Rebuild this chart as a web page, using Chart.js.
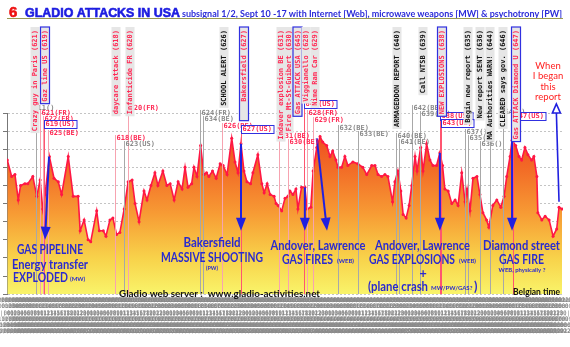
<!DOCTYPE html>
<html>
<head>
<meta charset="utf-8">
<script src="https://cdn.jsdelivr.net/npm/chart.js@4.4.0/dist/chart.umd.min.js"></script>
<style>
html,body{margin:0;padding:0;background:#fff}
</style>
</head>
<body>
<canvas id="myChart" width="570" height="347"></canvas>
<script>
// hours since Sept 10, 00:00 (Belgian time)
const hours = [0.1, 1.4, 2.4, 3.4, 4.1, 5.4, 6.3, 7.8, 9.0, 10.0,
  10.8, 11.5, 12.8, 14.2, 15.5, 16.5, 18.5, 20.0, 21.5, 22.1,
  23.3, 24.5, 25.3, 27.1, 27.9, 29.1, 29.9, 31.1, 32.0, 33.1,
  34.1, 35.4, 36.6, 37.8, 38.7, 39.9, 41.4, 42.3, 43.5, 44.7,
  45.6, 47.1, 48.3, 49.3, 50.5, 51.7, 52.9, 53.8, 54.7, 55.8,
  56.5, 57.4, 58.5, 59.5, 60.3, 61.0, 62.1, 63.2, 64.4, 65.3,
  66.5, 67.9, 68.9, 69.8, 70.7, 71.6, 72.5, 73.6, 74.3, 75.8,
  77.0, 77.7, 78.6, 79.5, 80.7, 81.3, 81.9, 83.0, 84.0, 84.9,
  85.5, 86.4, 87.3, 87.9, 89.0, 90.0, 90.7, 91.8, 92.5, 93.6,
  94.6, 95.4, 96.6, 97.6, 98.4, 99.4, 100.0, 101.1, 102.1, 103.0,
  104.5, 106.0, 107.5, 108.7, 110.2, 111.2, 112.1, 113.2, 114.2, 115.1,
  116.5, 117.2, 118.1, 119.0, 119.7, 120.6, 121.5, 122.3, 123.3, 123.9,
  125.0, 125.7, 126.8, 127.8, 128.7, 129.8, 130.8, 131.6, 132.3, 133.3,
  134.4, 135.4, 136.3, 137.4, 138.4, 139.0, 139.9, 140.8, 142.0, 142.9,
  143.8, 144.9, 145.6, 146.8, 148.0, 149.2, 150.2, 151.0, 152.0, 152.6,
  153.7, 154.7, 155.5, 156.5, 157.4, 158.5, 159.2, 160.1, 160.4, 161.6,
  162.6, 163.8, 165.0, 166.1, 166.8, 167.7];

const signal = [74, 65, 66, 52, 60, 61, 61, 65, 54, 63,
  47, 55, 76, 64, 62, 55, 76, 54, 54, 35,
  41, 30, 29, 46, 35, 35, 32, 41, 42, 33,
  34, 47, 62, 63, 50, 40, 57, 52, 60, 67,
  60, 68, 60, 61, 52, 62, 58, 70, 59, 61,
  70, 65, 82, 66, 67, 65, 68, 64, 72, 71,
  66, 86, 73, 67, 83, 68, 62, 61, 67, 77,
  61, 56, 61, 55, 54, 50, 49, 46, 53, 54,
  57, 55, 58, 47, 59, 59, 47, 48, 68, 81,
  87, 84, 82, 76, 79, 74, 70, 70, 76, 71,
  73, 72, 70, 66, 71, 71, 66, 65, 66, 65,
  51, 62, 68, 57, 44, 42, 49, 60, 76, 68,
  81, 68, 83, 74, 71, 71, 78, 71, 58, 57,
  50, 52, 49, 67, 51, 58, 46, 64, 65, 55,
  45, 41, 37, 49, 52, 48, 54, 65, 76, 85,
  82, 76, 74, 81, 77, 74, 76, 65, 45, 41,
  43, 41, 32, 36, 48, 47];

const tickDays = ['10/09', '11/09', '12/09', '13/09', '14/09', '15/09', '16/09', '17/09'];

// events: vertical markers
const eventHours = [8.9, 10.0, 10.8, 11.1, 12.5, 32.6, 35.4, 36.6, 58.3, 59.2,
  64.9, 70.7, 82.2, 84.9, 89.7, 90.6, 92.5, 100.0, 106.1, 117.5,
  118.4, 122.4, 124.8, 130.8, 131.1, 138.4, 139.3, 142.9, 145.9, 149.9, 152.9];
const eventTags = ['11()', '621(FR)', '622(FR)', '619(US)', '625(BE)', '618(BE)', '623(US)', '620(FR)', '624(FR)', '634(BE)',
  '626(BE)', '627(US)', '631(BE)', '630(BE)', '645(US)', '628(FR)', '629(FR)', '632(BE)', '633(BE)', '640(BE)',
  '641(BE)', '642(BE)', '639(BE)', '638(US)', '643(US)', '637()', '635()', '636()', '', '646()', '647(US)'];
const eventKinds = ['info', 'alert', 'alert', 'attack', 'alert', 'alert', 'info', 'alert', 'info', 'info',
  'alert', 'attack', 'alert', 'alert', 'attack', 'alert', 'alert', 'info', 'info', 'info',
  'info', 'info', 'info', 'attack', 'attack', 'info', 'info', 'info', 'info', 'info', 'attack'];

// rotated event names
const titleTexts = ['Crazy guy in Paris (621)', 'Gaz line US (619)', 'daycare attack (618)', 'Infanticide FR (620)',
  'SCHOOL ALERT (626)', 'Bakersfield (627)', 'Indaver explosion BE (631)', 'Fire Mt-St-Guibert (630)',
  'Gas ATTACK USA (645)', 'Viggianello (628)', 'Nime Ram Car (629)', 'ARMAGEDDON REPORT (640)', 'Call NTSB (639)',
  'NEW EXPLOSIONS (638)', 'Begin new report (635)', 'New report SENT (636)', 'MA Authorities WARN! (644)',
  'CLEARED says gov. (646)', 'Gas ATTACK Diamond U (647)'];
const titleKinds = ['red', 'boxed', 'red', 'red', 'black', 'boxed', 'red', 'red', 'boxed', 'red', 'red',
  'black', 'black', 'boxed', 'black', 'black', 'black', 'black', 'boxed'];

// arrows from an event to its comment [hour, level]
const arrowFrom = [[12.7, 76], [70.7, 83], [90.0, 59], [93.6, 86], [130.8, 78], [152.6, 85]];
const arrowTo = [[11.5, 30], [70.7, 35], [90.0, 35], [96.7, 35], [130.8, 35], [152.6, 35]];
const reportArrow = [[166.8, 51], [166.0, 105]];

// layout of the text layer (px)
const tagTop = [105, 110, 116, 121, 130, 135, 141, 105, 110, 116, 123, 126, 133, 139, 101, 110, 117, 125, 131, 133,
  139, 105, 111, 113, 120, 129, 135, 141, 140, 109, 113];
const titleX = [35, 45, 116, 130, 224, 244, 281, 289, 297.5, 306, 315, 397, 423, 442, 468, 480, 490, 503, 516];
const titleExtra = [0, 0, 0, 0, 0, 17, 0, 0, 0, 0, 0, 0, 0, 0, 0, 0, 0, 0, 0];

const blueTxt = '#2a2ad0';
const notes = [
  ['GAS PIPELINE', 50, 250, 12.5, 66, 'center'],
  ['Energy transfer', 50, 264.5, 12.5, 76, 'center'],
  ['EXPLODED', 13, 278, 12.5, 55, 'left'],
  ['(MW)', 70, 279.5, 6, 16, 'left'],
  ['Bakersfield', 212, 243, 12.5, 57, 'center'],
  ['MASSIVE SHOOTING', 212, 257.5, 12.5, 102, 'center'],
  ['(PW)', 212, 268, 6, 12, 'center'],
  ['Andover, Lawrence', 318, 246, 12.5, 95, 'center'],
  ['GAS FIRES', 282, 260, 12.5, 51, 'left'],
  ['(WEB)', 337, 261.5, 6, 17, 'left'],
  ['Andover, Lawrence', 422.5, 246, 12.5, 95, 'center'],
  ['GAS EXPLOSIONS', 369, 260, 12.5, 86, 'left'],
  ['(WEB)', 459, 261.5, 6, 18, 'left'],
  ['+', 423, 274, 12.5, 10, 'center'],
  ['(plane crash', 368, 287, 12.5, 60, 'left'],
  ['MW/PW/GAS?', 431, 288.5, 6, 42, 'left'],
  [')', 474, 287, 12.5, 4, 'left'],
  ['Diamond street', 521.5, 246, 12.5, 77, 'center'],
  ['GAS FIRE', 521.5, 260, 12.5, 45, 'center'],
  ['WEB, physically ?', 522, 270, 6, 50, 'center']
];

const kindStyle = {
  alert: {line: '#f7a3b0', text: '#ff2a55', box: false},
  attack: {line: '#ff5570', text: '#ff2a55', box: true},
  info: {line: '#a8a8a8', text: '#8a8a8a', box: false}
};

const overlay = {
  id: 'overlay',
  afterDatasetsDraw(chart) {
    const {ctx, chartArea, scales: {x, y}} = chart;
    ctx.save();
    // event lines
    eventHours.forEach(function(h, i) {
      const px = Math.round(x.getPixelForValue(h)) + 0.5;
      ctx.strokeStyle = kindStyle[eventKinds[i]].line;
      ctx.lineWidth = 1;
      ctx.beginPath();
      ctx.moveTo(px, tagTop[i]);
      ctx.lineTo(px, chartArea.bottom);
      ctx.stroke();
    });
    // blue arrows
    ctx.strokeStyle = '#2020e0';
    ctx.fillStyle = '#2020e0';
    arrowFrom.forEach(function(a, i) {
      const x0 = x.getPixelForValue(a[0]), y0 = y.getPixelForValue(a[1]);
      const x1 = x.getPixelForValue(arrowTo[i][0]), y1 = y.getPixelForValue(arrowTo[i][1]);
      const ang = Math.atan2(y1 - y0, x1 - x0);
      ctx.lineWidth = 2;
      ctx.beginPath();
      ctx.moveTo(x0, y0);
      ctx.lineTo(x1 - 10 * Math.cos(ang), y1 - 10 * Math.sin(ang));
      ctx.stroke();
      ctx.beginPath();
      ctx.moveTo(x1, y1);
      ctx.lineTo(x1 - 13 * Math.cos(ang) + 5 * Math.sin(ang), y1 - 13 * Math.sin(ang) - 5 * Math.cos(ang));
      ctx.lineTo(x1 - 13 * Math.cos(ang) - 5 * Math.sin(ang), y1 - 13 * Math.sin(ang) + 5 * Math.cos(ang));
      ctx.closePath();
      ctx.fill();
    });
    // hollow arrow up to "When I began this report"
    const rx0 = x.getPixelForValue(reportArrow[0][0]), ry0 = y.getPixelForValue(reportArrow[0][1]);
    const rx1 = x.getPixelForValue(reportArrow[1][0]), ry1 = y.getPixelForValue(reportArrow[1][1]);
    ctx.lineWidth = 1.6;
    ctx.beginPath();
    ctx.moveTo(rx0, ry0);
    ctx.lineTo(rx1, ry1 + 9);
    ctx.stroke();
    ctx.fillStyle = '#fff';
    ctx.beginPath();
    ctx.moveTo(rx1, ry1);
    ctx.lineTo(rx1 - 4, ry1 + 9);
    ctx.lineTo(rx1 + 4, ry1 + 9);
    ctx.closePath();
    ctx.fill();
    ctx.stroke();

    // small tags
    ctx.font = 'bold 7px "DejaVu Sans Mono"';
    ctx.textBaseline = 'top';
    ctx.textAlign = 'left';
    eventHours.forEach(function(h, i) {
      if (!eventTags[i]) return;
      const st = kindStyle[eventKinds[i]];
      const px = Math.round(x.getPixelForValue(h));
      const w = ctx.measureText(eventTags[i]).width;
      if (st.box) {
        ctx.fillStyle = '#fff';
        ctx.fillRect(px, tagTop[i] - 1, w + 3, 8);
        ctx.strokeStyle = '#3030e0';
        ctx.lineWidth = 1;
        ctx.strokeRect(px + 0.5, tagTop[i] - 0.5, w + 3, 8);
      }
      ctx.fillStyle = st.text;
      ctx.fillText(eventTags[i], px + 1.5, tagTop[i]);
    });

    // rotated names
    titleTexts.forEach(function(t, i) {
      const w = ctx.measureText(t).width;
      const cx = titleX[i];
      const top = 27, hgt = w + 5 + titleExtra[i];
      ctx.fillStyle = '#e6e6e6';
      ctx.fillRect(cx - 4.5, top, 9, hgt);
      if (titleKinds[i] === 'boxed') {
        ctx.strokeStyle = '#3030e0';
        ctx.lineWidth = 1.2;
        ctx.strokeRect(cx - 4.5, top, 9, hgt);
      }
      ctx.save();
      ctx.translate(cx, top + w + 3);
      ctx.rotate(-Math.PI / 2);
      ctx.textBaseline = 'middle';
      ctx.fillStyle = titleKinds[i] === 'black' ? '#111' : '#ff2a55';
      ctx.fillText(t, 0, 0.5);
      ctx.restore();
    });

    // comments
    ctx.textBaseline = 'middle';
    ctx.fillStyle = blueTxt;
    notes.forEach(function(n) {
      ctx.font = 'bold ' + n[3] + 'px Lato';
      ctx.textAlign = n[5];
      ctx.fillText(n[0], n[1], n[2], n[4]);
    });
    ctx.fillStyle = '#111';
    ctx.textAlign = 'left';
    ctx.font = 'bold 10px Lato';
    ctx.fillText('Gladio web server :  www.gladio-activities.net', 119, 294, 201);
    ctx.font = 'bold 8.5px Lato';
    ctx.fillText('Belgian time', 513, 292.5, 47);

    ctx.fillStyle = '#ff2020';
    ctx.textAlign = 'center';
    ctx.font = '9.5px Lato';
    ['When', 'I began', 'this', 'report'].forEach(function(s, i) {
      ctx.fillText(s, 548, 66 + i * 10.3);
    });

    // heading
    ctx.textAlign = 'left';
    ctx.textBaseline = 'alphabetic';
    ctx.fillStyle = '#ee1111';
    ctx.strokeStyle = '#ee1111';
    ctx.lineWidth = 0.6;
    ctx.font = 'bold 15px "Liberation Sans"';
    ctx.fillText('6', 9, 17);
    ctx.strokeText('6', 9, 17);
    ctx.fillStyle = '#1c1ce0';
    ctx.strokeStyle = '#1c1ce0';
    ctx.font = 'bold 13px "Liberation Sans"';
    ctx.fillText('GLADIO ATTACKS IN USA', 25, 17, 155);
    ctx.strokeText('GLADIO ATTACKS IN USA', 25, 17, 155);
    ctx.fillStyle = '#2a2ad8';
    ctx.font = 'bold 9px Lato';
    ctx.fillText('subsignal 1/2, Sept 10 -17 with Internet [Web], microwave weapons [MW] & psychotrony [PW]', 182, 17, 380);
    ctx.strokeStyle = '#9a9a50';
    ctx.lineWidth = 1;
    ctx.beginPath();
    ctx.moveTo(7, 18.5);
    ctx.lineTo(563, 18.5);
    ctx.stroke();
    ctx.restore();
  }
};

const points = hours.map(function(h, i) { return {x: h, y: signal[i]}; });

const ctx = document.getElementById('myChart').getContext('2d');
const chart = new Chart(ctx, {
  type: 'line',
  data: {
    datasets: [{
      data: points,
      borderColor: '#ff1744',
      borderWidth: 1.6,
      pointRadius: 1.5,
      pointBackgroundColor: '#ff1744',
      pointBorderWidth: 0,
      tension: 0,
      fill: 'origin',
      backgroundColor: function(c) {
        const area = c.chart.chartArea;
        if (!area) return '#f58a30';
        const g = c.chart.ctx.createLinearGradient(0, area.top, 0, area.bottom);
        g.addColorStop(0, '#ec3a1c');
        g.addColorStop(0.3, '#f26a26');
        g.addColorStop(0.55, '#f79a34');
        g.addColorStop(0.8, '#f8d24a');
        g.addColorStop(1, '#f9f46a');
        return g;
      }
    }]
  },
  options: {
    responsive: false,
    animation: false,
    layout: {padding: {top: 113, left: 3, right: 7, bottom: 9}},
    plugins: {legend: {display: false}, tooltip: {enabled: false}},
    scales: {
      x: {
        type: 'linear', min: 0, max: 168,
        grid: {display: false, drawTicks: false},
        border: {display: false},
        afterFit: function(s) { s.paddingLeft = 0; s.paddingRight = 0; },
        ticks: {
          stepSize: 1, autoSkip: false, maxRotation: 0, minRotation: 0, padding: 3,
          color: '#8a8a8a',
          font: {family: 'DejaVu Sans Mono', size: 6, lineHeight: 1.05},
          callback: function(v) {
            const d = tickDays[Math.min(Math.floor(v / 24), tickDays.length - 1)];
            const hh = String(v % 24).padStart(2, '0');
            return [d + ' ' + hh + 'h', hh + ':00', '|' + hh + '|', d, hh + ':00:00', d + '-' + hh];
          }
        }
      },
      y: {
        min: 0, max: 100,
        ticks: {display: false, stepSize: 10},
        grid: {color: '#c4c4c4', tickLength: 4, drawTicks: true, tickColor: '#777'},
        border: {display: true, color: '#777', dash: [2, 2]}
      }
    }
  },
  plugins: [overlay]
});
</script>
</body>
</html>
